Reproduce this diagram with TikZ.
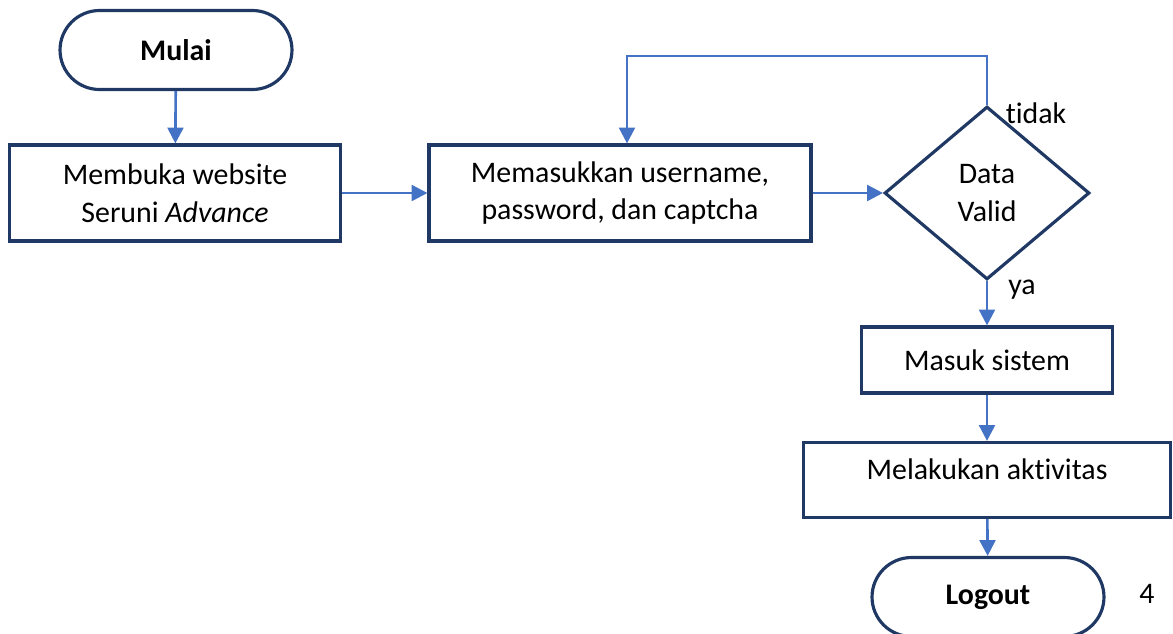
\documentclass[tikz,border=0pt]{standalone}
\usepackage{fontspec}
\setmainfont[Ligatures={NoCommon}]{Carlito}
\usepackage{xcolor}
\usetikzlibrary{arrows.meta,shapes.geometric,positioning}
\definecolor{garis}{RGB}{31,56,100}
\definecolor{panah}{RGB}{68,114,196}

\begin{document}
\begin{tikzpicture}[x=0.02cm, y=-0.02cm,
    every node/.style={font=\fontsize{17}{21.5}\selectfont},
    kotak/.style={draw=garis, line width=1.8pt, align=center, inner sep=2pt},
    terminal/.style={kotak, rounded corners=0.79cm, minimum width=4.64cm, minimum height=1.58cm},
    keputusan/.style={draw=garis, line width=1.8pt, diamond, align=center, inner sep=0pt,
                      minimum width=4.1cm, minimum height=3.46cm},
    alur/.style={draw=panah, line width=1.5pt, -{Triangle[length=9pt,width=9pt]}}]
    \useasboundingbox (0,0) rectangle (1173,633);
    % Nodes
    \node[terminal] (mulai) at (176,50) {\bfseries Mulai};
    \node[kotak, minimum width=6.62cm, minimum height=1.92cm] (buka) at (175,193)
         {Membuka website\\Seruni \textit{Advance}};
    \node[kotak, minimum width=7.64cm, minimum height=1.92cm] (input) at (620,193)
         {Memasukkan username,\\password, dan captcha};
    \node[keputusan] (valid) at (987,193) {Data\\Valid};
    \node[kotak, minimum width=5.02cm, minimum height=1.32cm] (sistem) at (987,360) {Masuk sistem};
    \node[kotak, minimum width=7.34cm, minimum height=1.5cm, text depth=0.42cm] (aktivitas) at (987,480)
         {Melakukan aktivitas};
    \node[terminal] (logout) at (988,597) {\bfseries Logout};
    % Labels
    \node (tidak) at (1036,113) {tidak};
    \node (ya) at (1022,290) {ya};
    \node (hal) at (1147,594) {4};
    % Arrows
    \draw[alur] (mulai) -- (buka);
    \draw[alur] (buka) -- (input);
    \draw[alur] (input) -- (valid);
    \draw[alur] (valid.north) -- ++(0,-49) -| ([xshift=0.14cm]input.north);
    \draw[alur] (valid) -- (sistem);
    \draw[alur] (sistem) -- (aktivitas);
    \draw[alur] (aktivitas) -- (logout);
\end{tikzpicture}
\end{document}
